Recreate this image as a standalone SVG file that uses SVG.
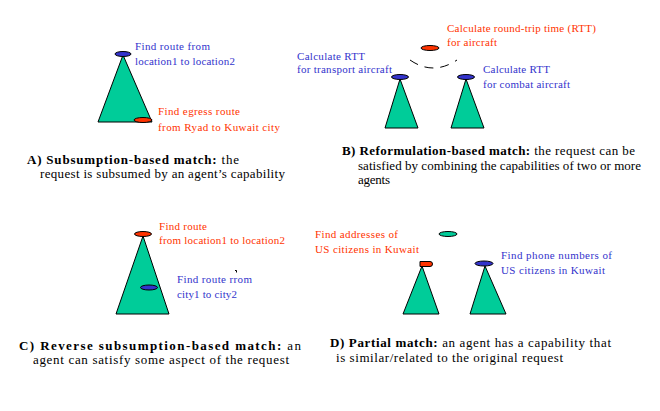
<svg xmlns="http://www.w3.org/2000/svg" width="660" height="411" viewBox="0 0 660 411">
  <style>
    .agent { fill: #00CC99; stroke: #000; stroke-width: 1; }
    .cap-blue { fill: #3333CC; stroke: #000; stroke-width: 1; }
    .cap-red { fill: #FF3300; stroke: #000; stroke-width: 1; }
    .cap-green { fill: #00CC99; stroke: #000; stroke-width: 1; }
    text { font-family: 'Liberation Serif', 'DejaVu Serif', 'Times New Roman', serif; }
    .lbl { font-size: 11px; }
    .blue { fill: #3333CC; }
    .red { fill: #FF3300; }
    .caption { font-size: 13px; fill: #000; }
    .caption .b { font-weight: bold; }
    .link { fill: none; stroke: #000; stroke-width: 1; stroke-dasharray: 9 7; }
  </style>
  <rect width="660" height="411" fill="#fff"/>

  <!-- A) Subsumption-based match -->
  <g id="panel-a">
    <g id="a-agent">
      <polygon class="agent" points="123,55 98,122 152,122"/>
      <ellipse class="cap-blue" cx="123" cy="54" rx="8" ry="2.5"/>
      <ellipse class="cap-red" cx="143" cy="120" rx="9" ry="2.5"/>
    </g>
    <text class="lbl blue" x="135" y="50" textLength="75">Find route from</text>
    <text class="lbl blue" x="135" y="65" textLength="100">location1 to location2</text>
    <text class="lbl red" x="158" y="115" textLength="82">Find egress route</text>
    <text class="lbl red" x="158" y="131" textLength="122">from Ryad to Kuwait city</text>
    <text class="caption" x="27" y="164" textLength="212"><tspan class="b">A) Subsumption-based match:</tspan> the</text>
    <text class="caption" x="40" y="178" textLength="245">request is subsumed by an agent’s capability</text>
  </g>

  <!-- B) Reformulation-based match -->
  <g id="panel-b">
    <g id="b-request">
      <ellipse class="cap-red" cx="430" cy="48" rx="9" ry="2.5"/>
    </g>
    <g id="b-agent-transport">
      <polygon class="agent" points="400,79 385,128 418,128"/>
      <ellipse class="cap-blue" cx="400" cy="77" rx="8.5" ry="2.5"/>
    </g>
    <g id="b-agent-combat">
      <polygon class="agent" points="466,79 451,128 484,128"/>
      <ellipse class="cap-blue" cx="466" cy="77" rx="8.5" ry="2.5"/>
    </g>
    <g id="b-connectors">
      <path class="link" d="M410,60 Q433,76 457,60"/>
    </g>
    <text class="lbl red" x="447" y="32" textLength="149">Calculate round-trip time (RTT)</text>
    <text class="lbl red" x="447" y="46" textLength="50">for aircraft</text>
    <text class="lbl blue" x="297" y="60" textLength="68">Calculate RTT</text>
    <text class="lbl blue" x="297" y="73" textLength="95">for transport aircraft</text>
    <text class="lbl blue" x="483" y="73" textLength="67">Calculate RTT</text>
    <text class="lbl blue" x="483" y="88" textLength="87">for combat aircraft</text>
    <text class="caption" x="342" y="155" textLength="293"><tspan class="b">B) Reformulation-based match:</tspan> the request can be</text>
    <text class="caption" x="358" y="170" textLength="283">satisfied by combining the capabilities of two or more</text>
    <text class="caption" x="358" y="184" textLength="32">agents</text>
  </g>

  <!-- C) Reverse subsumption-based match -->
  <g id="panel-c">
    <g id="c-agent">
      <polygon class="agent" points="143,236 116,314 169,314"/>
      <ellipse class="cap-red" cx="143" cy="234" rx="8.5" ry="2.5"/>
      <ellipse class="cap-blue" cx="149" cy="287.5" rx="8.5" ry="2.5"/>
    </g>
    <text class="lbl red" x="159" y="230" textLength="48">Find route</text>
    <text class="lbl red" x="159" y="244" textLength="126">from location1 to location2</text>
    <text class="lbl blue" x="177" y="283" textLength="75">Find route rrom</text>
    <text class="lbl blue" x="177" y="298" textLength="60">city1 to city2</text>
    <path d="M235,270.5 h1.5 v2" fill="none" stroke="#000" stroke-width="1"/>
    <text class="caption" x="19" y="350" textLength="282"><tspan class="b">C) Reverse subsumption-based match:</tspan> an</text>
    <text class="caption" x="33" y="364" textLength="256">agent can satisfy some aspect of the request</text>
  </g>

  <!-- D) Partial match -->
  <g id="panel-d">
    <g id="d-request">
      <ellipse class="cap-green" cx="448" cy="234" rx="9" ry="2.5"/>
    </g>
    <g id="d-agent-left">
      <polygon class="agent" points="422,266 403,314 439,314"/>
      <path class="cap-red" d="M420,261.5 H430 A2.5,2.5 0 0 1 430,266.5 H420 Z"/>
    </g>
    <g id="d-agent-right">
      <polygon class="agent" points="485,266 470,314 506,314"/>
      <ellipse class="cap-blue" cx="484" cy="263.5" rx="9" ry="2.5"/>
    </g>
    <text class="lbl red" x="315" y="238" textLength="83">Find addresses of</text>
    <text class="lbl red" x="315" y="253" textLength="104">US citizens in Kuwait</text>
    <text class="lbl blue" x="501" y="259" textLength="111">Find phone numbers of</text>
    <text class="lbl blue" x="501" y="274" textLength="104">US citizens in Kuwait</text>
    <text class="caption" x="330" y="347" textLength="281"><tspan class="b">D) Partial match:</tspan> an agent has a capability that</text>
    <text class="caption" x="336" y="362" textLength="227">is similar/related to the original request</text>
  </g>
</svg>
